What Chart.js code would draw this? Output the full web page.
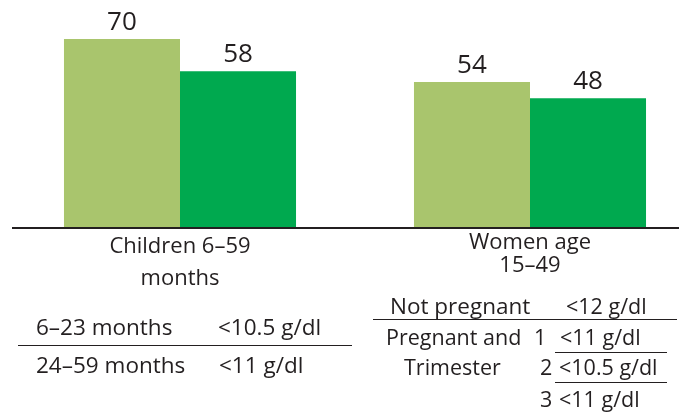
<!DOCTYPE html>
<html>
<head>
<meta charset="utf-8">
<script src="https://cdn.jsdelivr.net/npm/chart.js@4"></script>
<style>
  html, body { margin: 0; padding: 0; background: #fff; overflow: hidden; }
  #wrap { position: relative; width: 705px; height: 414px; }
  .t { position: absolute; font-family: "Open Sans", sans-serif; font-size: 22.5px; line-height: 26px; color: #231F20; white-space: nowrap; }
  .t.sm { font-size: 21.5px; }
  .rule { position: absolute; height: 0; border-top: 1.5px solid #231F20; }
</style>
</head>
<body>
<div id="wrap">
  <canvas id="anemiaChart" width="705" height="414"></canvas>
</div>
<script>
// Data
const categories = [['Children 6\u201359', 'months'], ['Women age', '15\u201349']];
const seriesA = [70, 54];   // light green
const seriesB = [58, 48];   // dark green
const colorA = '#A9C56D';
const colorB = '#00A94F';
const textColor = '#231F20';
const fontFam = '"Open Sans", sans-serif';

// threshold notes under the axis
const childRows = [['6\u201323 months', '<10.5 g/dl'], ['24\u201359 months', '<11 g/dl']];
const womenRows = [['Not pregnant', '', '<12 g/dl'], ['Pregnant and', '1', '<11 g/dl'], ['Trimester', '2', '<10.5 g/dl'], ['', '3', '<11 g/dl']];

// --- value labels + axis line ---
const barLabels = {
    id: 'barLabels',
    afterDatasetsDraw(chart) {
        const c = chart.ctx;
        c.save();
        c.fillStyle = textColor;
        c.font = '26px ' + fontFam;
        c.textAlign = 'center';
        c.textBaseline = 'alphabetic';
        chart.data.datasets.forEach((ds, i) => {
            chart.getDatasetMeta(i).data.forEach((bar, j) => {
                c.fillText(ds.data[j], bar.x, bar.y - 9);
            });
        });
        // baseline
        const y0 = chart.scales.y.getPixelForValue(0);
        c.strokeStyle = textColor;
        c.lineWidth = 2;
        c.beginPath();
        c.moveTo(12, y0);
        c.lineTo(chart.width, y0);
        c.stroke();
        c.restore();
    }
};

const ctx = document.getElementById('anemiaChart').getContext('2d');
new Chart(ctx, {
    type: 'bar',
    data: {
        labels: categories,
        datasets: [
            { data: seriesA, backgroundColor: colorA, borderWidth: 0 },
            { data: seriesB, backgroundColor: colorB, borderWidth: 0 }
        ]
    },
    options: {
        responsive: false,
        animation: false,
        layout: { padding: { left: 5, right: 0, top: 0, bottom: 0 } },
        categoryPercentage: 0.663,
        barPercentage: 1,
        plugins: { legend: { display: false }, tooltip: { enabled: false } },
        scales: {
            y: { display: false, min: 0, max: 84.4 },
            x: {
                grid: { display: false, drawTicks: false },
                border: { display: false },
                afterFit: (s) => { s.height = 186; },
                ticks: {
                    color: textColor,
                    padding: 3,
                    maxRotation: 0,
                    autoSkip: false,
                    font: (c) => ({ family: fontFam, size: 22, lineHeight: c.index === 0 ? 1.46 : 1.05 })
                }
            }
        }
    },
    plugins: [barLabels]
});

// --- notes (html text) ---
const wrap = document.getElementById('wrap');
function put(txt, left, cy, cls) {
    if (!txt) return;
    const d = document.createElement('div');
    d.className = 't' + (cls ? ' ' + cls : '');
    d.textContent = txt;
    d.style.left = left + 'px';
    d.style.top = (cy - 13) + 'px';
    wrap.appendChild(d);
}
function rule(left, top, w) {
    const d = document.createElement('div');
    d.className = 'rule';
    d.style.left = left + 'px';
    d.style.top = top + 'px';
    d.style.width = w + 'px';
    wrap.appendChild(d);
}

put(childRows[0][0], 36, 327); put(childRows[0][1], 218, 327);
rule(18, 345, 334);
put(childRows[1][0], 36, 365); put(childRows[1][1], 219, 365);

const wy = [306, 337, 367, 399];
const wx = [[390, 0, 566], [386, 534, 560], [404, 540, 559], [0, 540, 559]];
womenRows.forEach((r, i) => {
    put(r[0], wx[i][0], wy[i], i > 0 ? 'sm' : '');
    put(r[1], wx[i][1], wy[i], 'sm');
    put(r[2], wx[i][2], wy[i], 'sm');
});
rule(373, 319, 304);
rule(555, 352, 112);
rule(555, 382, 112);
</script>
</body>
</html>
